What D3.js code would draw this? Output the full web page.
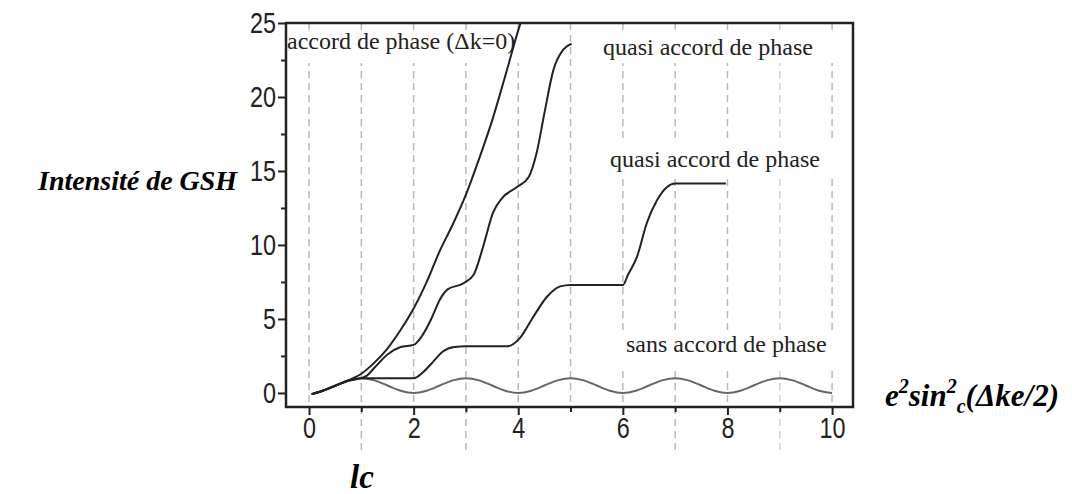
<!DOCTYPE html>
<html>
<head>
<meta charset="utf-8">
<script src="https://cdn.jsdelivr.net/npm/d3@7"></script>
<style>
  body { margin: 0; background: #fff; }
  svg { display: block; }
</style>
</head>
<body>
<svg id="chart" width="1072" height="494"></svg>
<script>
// x in units of lc, y = intensité de GSH
const xTicks = [0, 2, 4, 6, 8, 10]
const xMinorTicks = [1, 3, 5, 7, 9]
const yTicks = [0, 5, 10, 15, 20, 25]
const yMinorTicks = [2.5, 7.5, 12.5, 17.5, 22.5]
const gridX = [0, 1, 2, 3, 4, 5, 6, 7, 8, 9, 10]
const gridBelowAxis = [1, 3, 7, 9]

// accord de phase (dk = 0)
const accordPhase = [
  [0.05, -0.08], [0.25, 0.13], [0.5, 0.48], [0.75, 0.85], [1, 1.3], [1.25, 2.05],
  [1.5, 3.0], [1.75, 4.25], [2, 5.7], [2.25, 7.5], [2.5, 9.6], [2.75, 11.4],
  [3, 13.4], [3.25, 15.8], [3.5, 18.4], [3.75, 21.4], [4, 24.5], [4.1, 25.6]
]

// quasi accord de phase (upper)
const quasiAccord1 = [
  [0.05, -0.08], [0.25, 0.13], [0.5, 0.48], [0.75, 0.82], [1, 1.0], [1.1, 1.15],
  [1.25, 1.7], [1.5, 2.6], [1.75, 3.1], [2, 3.25], [2.15, 3.8], [2.35, 5.1],
  [2.5, 6.3], [2.65, 7.0], [2.95, 7.4], [3.15, 8.0], [3.33, 9.9], [3.52, 12.2],
  [3.7, 13.2], [3.97, 13.9], [4.2, 14.6], [4.35, 16.2], [4.5, 18.9], [4.67, 21.8],
  [4.86, 23.2], [5.02, 23.6]
]

// quasi accord de phase (lower, steps)
const quasiAccord2 = [
  [0.05, -0.08], [0.25, 0.13], [0.5, 0.48], [0.75, 0.82], [1, 1.0], [2, 1.0],
  [2.18, 1.4], [2.37, 2.1], [2.56, 2.8], [2.78, 3.1], [3, 3.15], [3.8, 3.15],
  [4.03, 3.7], [4.28, 5.1], [4.55, 6.5], [4.8, 7.2], [5, 7.3], [6, 7.3],
  [6.1, 8.0], [6.27, 9.2], [6.46, 11.5], [6.65, 13.0], [6.84, 13.9], [7, 14.15],
  [7.97, 14.15]
]

// sans accord de phase
const sansAccord = [
  [0.05, -0.08], [0.25, 0.15], [0.5, 0.5], [0.75, 0.85], [1, 1], [1.25, 0.85], [1.5, 0.5], [1.75, 0.15],
  [2, 0], [2.25, 0.15], [2.5, 0.5], [2.75, 0.85], [3, 1], [3.25, 0.85], [3.5, 0.5], [3.75, 0.15],
  [4, 0], [4.25, 0.15], [4.5, 0.5], [4.75, 0.85], [5, 1], [5.25, 0.85], [5.5, 0.5], [5.75, 0.15],
  [6, 0], [6.25, 0.15], [6.5, 0.5], [6.75, 0.85], [7, 1], [7.25, 0.85], [7.5, 0.5], [7.75, 0.15],
  [8, 0], [8.25, 0.15], [8.5, 0.5], [8.75, 0.85], [9, 1], [9.25, 0.85], [9.5, 0.5], [9.75, 0.15],
  [10, 0]
]

const annotations = [
  { text: 'accord de phase (\u0394k=0)', x: 287, y: 49, band: [287, 520, 31, 63] },
  { text: 'quasi accord de phase', x: 603, y: 55, band: [600, 849, 31, 63] },
  { text: 'quasi accord de phase', x: 610, y: 167, band: [606, 849, 143, 178] },
  { text: 'sans accord de phase', x: 626, y: 352, band: [622, 849, 330, 368] }
]

const plot = { left: 286, right: 853, top: 23, bottom: 407 }
const ink = '#222'
const serifFont = '"Liberation Serif", "Times New Roman", serif'

const svg = d3.select('#chart')

const x = d3.scaleLinear().domain([-0.44, 10.4]).range([plot.left, plot.right])
const y = d3.scaleLinear().domain([-0.95, 25]).range([plot.bottom, plot.top])

svg.append('defs').append('clipPath')
  .attr('id', 'plotClip')
  .append('rect')
  .attr('x', plot.left)
  .attr('y', plot.top)
  .attr('width', plot.right - plot.left)
  .attr('height', plot.bottom - plot.top)

// dashed vertical grid
svg.append('g')
  .selectAll('line')
  .data(gridX)
  .join('line')
  .attr('x1', d => x(d))
  .attr('x2', d => x(d))
  .attr('y1', plot.top)
  .attr('y2', d => gridBelowAxis.includes(d) ? plot.bottom + 45 : plot.bottom)
  .style('stroke', d => d === 9 ? '#d0d0d0' : '#b8b8b8')
  .style('stroke-width', 1.5)
  .style('stroke-dasharray', '7,5')

// white bands behind the curve labels
const bandG = svg.append('g')
const textG = svg.append('g')
annotations.forEach(a => {
  bandG.append('rect')
    .attr('x', a.band[0])
    .attr('width', a.band[1] - a.band[0])
    .attr('y', a.band[2])
    .attr('height', a.band[3] - a.band[2])
    .style('fill', 'white')
  textG.append('text')
    .text(a.text)
    .attr('x', a.x)
    .attr('y', a.y)
    .style('font-family', serifFont)
    .style('font-size', '24px')
    .style('fill', ink)
})

// axes
const styleTicks = g => {
  g.select('.domain').remove()
  g.selectAll('.tick line').style('stroke', ink).style('stroke-width', 2)
  g.selectAll('.tick text')
    .style('font-family', '"Liberation Sans", Arial, sans-serif')
    .style('font-size', '29px')
    .style('fill', ink)
    .attr('textLength', function () { return this.textContent.length * 13 })
    .attr('lengthAdjust', 'spacingAndGlyphs')
}

svg.append('g')
  .attr('transform', `translate(${plot.left},0)`)
  .call(d3.axisLeft(y).tickValues(yTicks).tickSize(8).tickSizeOuter(0).tickPadding(2))
  .call(styleTicks)

svg.append('g')
  .attr('transform', `translate(${plot.left},0)`)
  .call(d3.axisLeft(y).tickValues(yMinorTicks).tickSize(5).tickSizeOuter(0).tickFormat(''))
  .call(styleTicks)

svg.append('g')
  .attr('transform', `translate(0,${plot.bottom})`)
  .call(d3.axisBottom(x).tickValues(xTicks).tickSize(8).tickSizeOuter(0).tickPadding(2))
  .call(styleTicks)

svg.append('g')
  .attr('transform', `translate(0,${plot.bottom})`)
  .call(d3.axisBottom(x).tickValues(xMinorTicks).tickSize(5).tickSizeOuter(0).tickFormat(''))
  .call(styleTicks)

// frame
svg.append('rect')
  .attr('x', plot.left)
  .attr('y', plot.top)
  .attr('width', plot.right - plot.left)
  .attr('height', plot.bottom - plot.top)
  .style('fill', 'none')
  .style('stroke', ink)
  .style('stroke-width', 2.5)

// curves
const line = d3.line()
  .x(d => x(d[0]))
  .y(d => y(d[1]))
  .curve(d3.curveMonotoneX)

const curves = svg.append('g').attr('clip-path', 'url(#plotClip)')
const series = [
  { data: sansAccord, color: '#666' },
  { data: quasiAccord2, color: ink },
  { data: quasiAccord1, color: ink },
  { data: accordPhase, color: ink }
]
series.forEach(s => {
  curves.append('path')
    .datum(s.data)
    .attr('d', line)
    .style('fill', 'none')
    .style('stroke', s.color)
    .style('stroke-width', 2)
})

// axis titles
svg.append('text')
  .text('Intensité de GSH')
  .attr('x', 38)
  .attr('y', 190)
  .style('font-family', serifFont)
  .style('font-size', '28px')
  .style('font-weight', 'bold')
  .style('font-style', 'italic')
  .style('fill', '#000')

const xTitle = svg.append('text')
  .attr('x', 885)
  .attr('y', 406)
  .style('font-family', serifFont)
  .style('font-size', '31px')
  .style('font-weight', 'bold')
  .style('font-style', 'italic')
  .style('fill', '#000')
xTitle.append('tspan').text('e')
xTitle.append('tspan').text('2').attr('dy', -13).style('font-size', '20px')
xTitle.append('tspan').text('sin').attr('dy', 13)
xTitle.append('tspan').text('2').attr('dy', -13).style('font-size', '20px')
xTitle.append('tspan').text('c').attr('dy', 20).style('font-size', '20px')
xTitle.append('tspan').text('(\u0394ke/2)').attr('dy', -7)

svg.append('text')
  .text('lc')
  .attr('x', 350)
  .attr('y', 488)
  .style('font-family', serifFont)
  .style('font-size', '33px')
  .style('font-weight', 'bold')
  .style('font-style', 'italic')
  .style('fill', '#000')
</script>
</body>
</html>
